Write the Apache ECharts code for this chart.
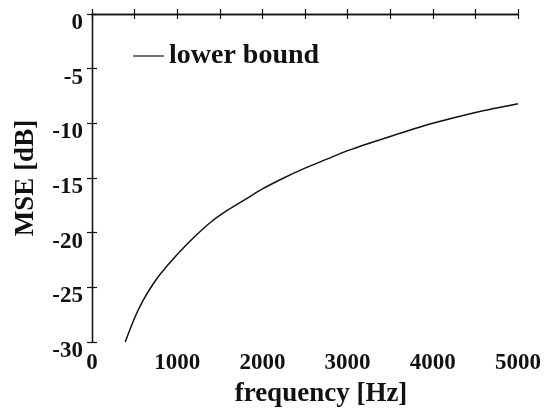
<!DOCTYPE html>
<html>
<head>
<meta charset="utf-8">
<script src="https://cdn.jsdelivr.net/npm/echarts@6/dist/echarts.min.js"></script>
<style>html,body{margin:0;padding:0;background:#fff}#c{width:544px;height:409px}</style>
</head>
<body>
<div id="c"></div>
<script>
const freqHz = [390, 500, 600, 700, 800, 1000, 1200, 1400, 1600, 1800, 2000, 2250, 2500, 2750, 3000, 3500, 4000, 4500, 5000];
const mseDb = [-30, -27.8, -26.2, -24.9, -23.8, -22.0, -20.4, -19.0, -17.9, -16.95, -16.0, -15.0, -14.1, -13.3, -12.5, -11.2, -10.0, -9.0, -8.2];
const seriesName = 'lower bound';
const xTitle = 'frequency [Hz]';
const yTitle = 'MSE [dB]';

const FONT = 'Liberation Serif';
const chart = echarts.init(document.getElementById('c'), null, {renderer: 'canvas'});
const axisLine = {show: true, lineStyle: {color: '#111', width: 1.3}};
const tick = {show: true, inside: true, length: 5, lineStyle: {color: '#111', width: 1.2}};
const lbl = {fontFamily: FONT, fontSize: 23, fontWeight: 'bold', color: '#111'};
chart.setOption({
  animation: false,
  backgroundColor: '#fff',
  grid: {left: 92, right: 26, top: 14, bottom: 67, containLabel: false, outerBoundsMode: 'none'},
  legend: {
    show: true, left: 128, top: 37, itemWidth: 31, itemHeight: 10, itemGap: 14,
    textStyle: {fontFamily: FONT, fontSize: 28, fontWeight: 'bold', color: '#111'},
    data: [{name: seriesName, icon: 'path://M0,0 L32,0 L32,1.2 L0,1.2 Z', itemStyle: {color: '#111'}}]
  },
  xAxis: [{
    type: 'value', min: 0, max: 5000, interval: 1000, position: 'bottom',
    axisLine, axisTick: tick,
    minorTick: {show: true, splitNumber: 2, length: 5, lineStyle: {color: '#111', width: 1.2}},
    splitLine: {show: false},
    axisLabel: Object.assign({margin: 10, formatter: v => String(v)}, lbl),
    name: xTitle, nameLocation: 'middle', nameGap: 39,
    nameTextStyle: {fontFamily: FONT, fontSize: 27, fontWeight: 'bold', color: '#111', padding: [0, 0, 0, 32]}
  }, {
    type: 'value', min: 0, max: 5000, interval: 1000, position: 'top',
    axisLine, axisTick: tick,
    minorTick: {show: true, splitNumber: 2, length: 5, lineStyle: {color: '#111', width: 1.2}},
    splitLine: {show: false}, axisLabel: {show: false}
  }],
  yAxis: [{
    type: 'value', min: -30, max: 0, interval: 5, position: 'left',
    axisLine, axisTick: tick, splitLine: {show: false},
    axisLabel: {
      margin: 9,
      formatter: v => '{v|' + String(v) + '}',
      rich: {v: Object.assign({padding: [18, 0, 0, 0]}, lbl)}
    },
    name: yTitle, nameLocation: 'middle', nameGap: 52, nameRotate: 90,
    nameTextStyle: {fontFamily: FONT, fontSize: 27, fontWeight: 'bold', color: '#111'}
  }, {
    type: 'value', min: -30, max: 0, interval: 5, position: 'right',
    axisLine, axisTick: tick, splitLine: {show: false}, axisLabel: {show: false}
  }],
  series: [{
    name: seriesName, type: 'line', xAxisIndex: 0, yAxisIndex: 0,
    data: freqHz.map((f, i) => [f, mseDb[i]]),
    smooth: 0.3, showSymbol: false, symbol: 'none', clip: true,
    lineStyle: {color: '#111', width: 1.5}
  }]
});
</script>
</body>
</html>
